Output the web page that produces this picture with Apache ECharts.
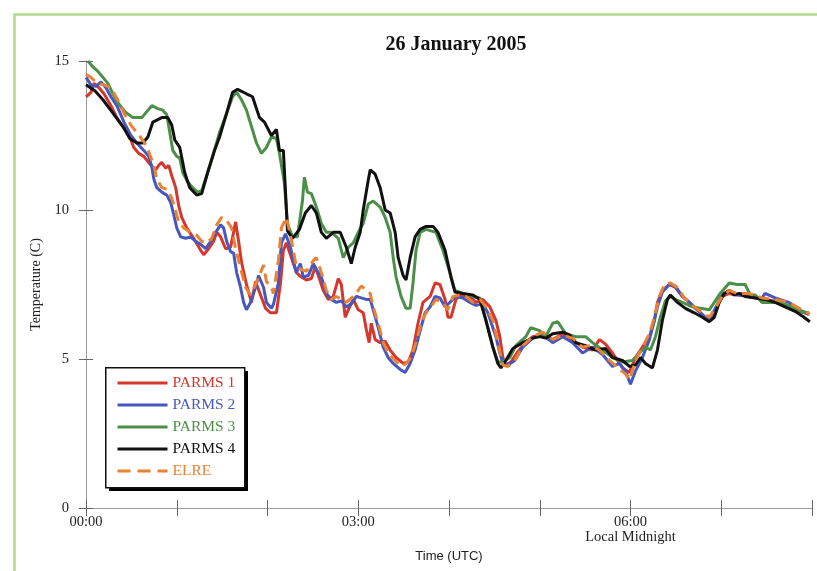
<!DOCTYPE html>
<html>
<head>
<meta charset="utf-8">
<script src="https://cdn.jsdelivr.net/npm/echarts@6/dist/echarts.min.js"></script>
<style>
  html, body { margin: 0; padding: 0; background: #fff; }
  #chart { width: 817px; height: 571px; }
</style>
</head>
<body>
<div id="chart"></div>
<script>
// time in minutes after 00:00 UTC, temperature in C
const parms1 = [[0,13.8],[0.7,13.8],[3.3,13.95],[5.3,14.25],[8.6,14.1],[11.9,13.9],[16.5,13.5],[20.4,13.1],[25.1,12.75],[29.7,12.35],[31.6,12.1],[34.9,11.9],[38.2,11.8],[42.9,11.5],[46.2,11.35],[48.1,11.5],[50.1,11.6],[52.7,11.4],[54.7,11.5],[56.7,11.15],[59.3,10.75],[61.3,10.15],[63.3,9.75],[66.6,9.4],[71.2,9.05],[75.8,8.65],[77.8,8.5],[81.1,8.7],[84.4,8.95],[86.4,9.25],[89,9.1],[92.3,8.7],[95.6,8.75],[98.9,9.6],[100.9,8.95],[102.8,8.25],[106.1,7.5],[109.4,6.9],[112.1,7.6],[115.4,7.15],[118.7,6.7],[122,6.55],[125.9,6.55],[128.6,7.55],[130.5,8.65],[132.5,8.9],[135.8,8.4],[139.1,7.9],[142.4,7.75],[145.7,7.65],[149,7.7],[151.6,8.1],[153.6,7.8],[156.9,7.3],[160.2,7.0],[163.5,7.1],[166.8,7.7],[168.8,7.5],[171.4,6.4],[173.4,6.65],[176.7,7.0],[180,6.65],[183.3,6.55],[185.3,6.0],[187.2,5.55],[188.6,6.2],[191.2,5.65],[194.5,5.55],[197.8,5.6],[201.1,5.3],[205,5.05],[209.7,4.85],[213,4.9],[216.2,5.3],[219.5,6.2],[222.8,6.9],[227.5,7.1],[230.8,7.55],[234,7.5],[237.4,7.0],[239.3,6.4],[241.3,6.4],[244.6,7.0],[247.2,7.15],[253.8,7.1],[257.8,6.9],[262.4,7.0],[267,6.75],[271,6.3],[273.6,5.75],[275.6,5.05],[277.6,4.8],[280.9,4.9],[285.5,5.25],[290.8,5.55],[295.4,5.75],[302,5.8],[308.6,5.65],[315.2,5.85],[321.7,5.65],[328.3,5.4],[334.9,5.3],[339.5,5.65],[343.5,5.5],[348.1,5.2],[354.7,4.7],[359.3,4.55],[363.3,5.05],[367.9,5.4],[372.5,5.75],[375.8,6.3],[377.8,6.9],[381.1,7.3],[385.7,7.5],[389.6,7.4],[394.3,7.1],[398.9,6.9],[404.2,6.65],[409.4,6.4],[412.7,6.3],[416,6.65],[420.6,7.1],[425.3,7.2],[429.2,7.15],[433.8,7.2],[438.4,7.1],[447,7.0],[455.6,6.95],[462.2,6.8],[468.8,6.65],[478,6.5]];

const parms2 = [[0,14.45],[3.3,14.2],[6.6,14.15],[9.9,14.3],[13.2,14.1],[16.5,13.8],[20.4,13.5],[25.1,12.95],[29.7,12.5],[33.6,12.25],[38.2,12.0],[41.5,11.8],[43.5,11.45],[44.8,11.05],[46.8,10.75],[50.1,10.6],[53.4,10.5],[56,10.25],[58,9.85],[60,9.4],[62.6,9.1],[65.9,9.05],[69.2,9.1],[72.5,8.95],[75.8,8.85],[79.1,8.7],[82.4,8.95],[85.7,9.25],[89,9.5],[91,9.4],[93,8.95],[95.6,8.6],[97.6,8.55],[99.6,7.9],[102.2,7.4],[104.2,6.9],[106.1,6.65],[108.8,6.9],[112.1,7.4],[114.1,7.8],[117.4,7.4],[119.3,6.9],[122.6,6.7],[124,6.85],[127.2,7.55],[129.2,8.9],[131.9,9.2],[135.2,8.75],[137.1,8.3],[139.1,7.9],[141.7,8.2],[143.7,7.75],[147,7.8],[150.3,8.2],[152.3,8.0],[155.6,7.75],[158.9,7.2],[162.2,7.0],[165.5,6.9],[168.8,6.95],[172.1,6.75],[175.4,6.85],[178.7,7.1],[182,7.05],[185.3,7.0],[187.9,7.0],[189.9,6.65],[193.2,6.05],[196.5,5.4],[199.8,5.05],[203.1,4.85],[207.7,4.65],[211,4.55],[214.3,4.85],[217.6,5.3],[220.9,5.95],[224.2,6.55],[227.5,6.75],[230.8,7.1],[234,7.05],[237.4,6.75],[240.6,6.9],[244.6,7.1],[249.2,7.05],[253.8,6.9],[257.8,6.8],[262.4,6.85],[265.7,6.55],[269,6.05],[271,5.75],[273.6,5.2],[275.6,4.85],[278.9,4.8],[283.5,4.95],[288.8,5.4],[295.4,5.7],[302,5.8],[308.6,5.55],[315.2,5.75],[321.7,5.55],[328.3,5.2],[334.9,5.4],[341.5,5.15],[348.1,4.75],[352.7,4.85],[356.7,4.6],[360,4.15],[363.3,4.6],[367.9,5.05],[372.5,5.65],[375.8,6.3],[377.8,6.75],[381.1,7.25],[385.7,7.5],[389.6,7.45],[394.3,7.1],[398.9,6.9],[404.2,6.65],[409.4,6.4],[412.7,6.35],[416,6.7],[420.6,7.15],[425.3,7.3],[430.5,7.15],[438.4,7.1],[447,7.05],[449,7.2],[455.6,7.05],[464.8,6.9],[471.5,6.65],[478,6.5]];

const parms3 = [[1.3,15.0],[4.6,14.8],[7.9,14.65],[11.2,14.45],[14.5,14.25],[17.8,13.9],[21.1,13.6],[25.7,13.3],[31,13.1],[36.9,13.1],[40.2,13.3],[43.5,13.5],[47.5,13.4],[50.8,13.35],[53.4,13.2],[55.4,12.6],[57.4,12.0],[60,11.8],[62,11.75],[64,11.25],[67.2,10.95],[70.5,10.75],[73.8,10.6],[76.5,10.65],[80.4,11.25],[83.7,11.8],[88.3,12.6],[93,13.25],[96.9,13.8],[99.6,13.95],[102.8,13.7],[106.1,13.35],[109.4,12.8],[112.7,12.25],[116,11.9],[119.3,12.1],[122.6,12.45],[125.9,12.4],[127.9,11.9],[131.2,10.9],[133.2,9.55],[136.5,9.1],[139.8,9.1],[143.1,10.3],[144.4,11.1],[146.4,10.6],[149,10.55],[152.3,10.1],[155.6,9.55],[158.9,9.25],[162.2,9.25],[166.8,9.05],[170.1,8.4],[173.4,8.75],[176.7,8.9],[180,9.25],[183.3,9.55],[186.6,10.2],[189.9,10.3],[194.5,10.1],[197.8,9.75],[201.1,9.25],[203.1,8.4],[205,7.75],[208.3,7.1],[211.6,6.7],[214.3,6.7],[216.2,7.55],[218.2,8.65],[220.9,9.25],[224.8,9.35],[231.4,9.25],[236,8.65],[240.6,7.9],[243.9,7.3],[249.2,7.2],[255.8,7.1],[260.4,7.05],[264.4,6.3],[269,5.4],[272.3,4.9],[275.6,4.9],[280.2,5.05],[284.2,5.45],[290.8,5.75],[294,6.05],[300,5.95],[303.9,5.75],[308.6,6.2],[311.9,6.25],[317.1,5.85],[323.7,5.75],[330.3,5.75],[334.9,5.55],[341.5,5.3],[348.1,5.05],[354.7,4.9],[361.3,4.95],[365.9,5.2],[369.9,5.4],[373.2,5.3],[376.5,5.75],[379.7,6.4],[383.1,6.95],[386.4,7.1],[389.6,7.0],[394.3,6.9],[400.9,6.75],[406.2,6.7],[412.1,6.65],[415.4,6.9],[419.3,7.2],[425.3,7.55],[430.5,7.5],[435.8,7.5],[439.1,7.15],[442.4,7.15],[447,6.9],[451.6,6.9],[458.2,6.9],[464.8,6.8],[471.5,6.6],[478,6.55]];

const parms4 = [[0,14.2],[5.9,14.0],[11.2,13.7],[17.8,13.25],[24.4,12.8],[29,12.4],[33.6,12.25],[37.6,12.25],[40.9,12.45],[44.2,12.95],[50.1,13.1],[54.1,13.1],[56.7,12.85],[58.7,12.35],[62,12.1],[65.3,11.25],[68.6,10.75],[73.2,10.5],[76.5,10.55],[80.4,11.25],[85,12.0],[88.3,12.45],[93,13.25],[96.9,13.95],[100.2,14.05],[106.1,13.9],[110.1,13.8],[114.7,13.1],[118,12.95],[122.6,12.5],[125.9,12.7],[127.9,12.0],[130.5,12.0],[133.2,9.3],[136.5,9.05],[141.1,9.35],[145,9.9],[149,10.15],[152.3,9.9],[155.6,9.25],[158.9,9.05],[163.5,9.25],[168.1,9.25],[172.1,8.75],[175.4,8.2],[178,8.75],[181.3,9.25],[183.3,10.0],[186.6,11.0],[187.9,11.35],[191.2,11.2],[194.5,10.75],[197.8,10.0],[201.1,9.9],[204.4,9.25],[206.4,8.4],[209.7,7.8],[211.6,7.65],[214.3,8.4],[217.6,9.1],[220.9,9.35],[224.8,9.45],[229.5,9.45],[232.7,9.25],[237.4,8.65],[241.3,7.75],[243.9,7.25],[249.2,7.2],[255.8,7.15],[260.4,7.0],[264.4,6.3],[269,5.4],[272.3,4.85],[274.3,4.7],[277.6,4.95],[282.2,5.35],[288.8,5.55],[295.4,5.7],[300,5.75],[303.9,5.7],[308.6,5.85],[315.2,5.9],[319.8,5.8],[323.7,5.55],[330.3,5.45],[336.9,5.3],[343.5,5.35],[348.1,5.05],[354.7,4.95],[359.3,4.75],[363.3,4.8],[366.6,5.05],[369.9,4.85],[374.5,4.7],[377.8,5.3],[381.1,6.3],[384.4,7.0],[386.4,7.15],[391,6.9],[396.3,6.7],[402.2,6.55],[407.5,6.4],[412.1,6.25],[415.4,6.4],[418.7,6.9],[422,7.2],[425.3,7.3],[428.6,7.15],[431.8,7.2],[435.8,7.1],[442.4,7.05],[449,7.0],[455.6,6.9],[462.2,6.75],[468.8,6.6],[474.7,6.4],[478.6,6.25]];

const elre = [[0,14.55],[3.3,14.45],[7.3,14.25],[11.9,14.2],[16.5,14.1],[20.4,13.75],[25.1,13.25],[29.7,12.85],[33.6,12.6],[38.2,12.3],[41.5,11.95],[44.8,11.5],[46.8,11.05],[50.1,10.75],[53.4,10.7],[56.7,10.4],[59.3,9.95],[61.3,9.6],[64.6,9.4],[69.2,9.25],[73.2,9.15],[76.5,8.95],[79.8,8.9],[83.1,9.05],[86.4,9.5],[89.7,9.75],[93,9.65],[96.3,9.4],[98.9,8.7],[102.2,8.05],[105.5,7.4],[108.8,7.15],[112.1,7.5],[115.4,7.9],[117.4,8.15],[119.3,7.6],[122.6,7.4],[123.9,7.2],[127.2,8.3],[129.2,9.4],[132.5,9.75],[135.8,9.0],[139.1,8.1],[142.4,8.0],[145.7,7.95],[150.3,8.3],[152.3,8.4],[155.6,7.9],[158.9,7.3],[162.2,7.0],[165.5,7.1],[168.8,7.0],[172.1,6.9],[176.7,7.1],[180,7.3],[182,7.45],[184.6,7.35],[187.9,7.2],[189.9,6.75],[193.2,6.2],[196.5,5.55],[199.8,5.2],[204.4,4.95],[208.3,4.75],[211.6,4.85],[214.9,5.05],[218.2,5.55],[221.5,6.2],[224.8,6.55],[228.1,6.75],[231.4,7.0],[236,6.9],[239.3,6.65],[242.6,7.1],[247.2,7.15],[251.2,7.1],[255.8,6.9],[260.4,7.0],[264.4,6.75],[269,6.3],[272.3,5.55],[275.6,4.8],[278.9,4.75],[283.5,4.95],[288.8,5.45],[295.4,5.75],[302,5.9],[308.6,5.65],[315.2,5.8],[321.7,5.7],[328.3,5.4],[333.6,5.45],[339.5,5.3],[346.1,4.95],[352.7,4.65],[356.7,4.5],[359.3,4.3],[363.3,4.95],[367.9,5.4],[372.5,5.85],[375.8,6.4],[379.1,7.1],[382.4,7.5],[386.4,7.55],[391,7.4],[395.6,7.05],[400.9,6.8],[406.2,6.6],[412.1,6.4],[416,6.7],[420.6,7.1],[425.3,7.3],[430.5,7.2],[438.4,7.2],[447,7.05],[455.6,7.0],[464.8,6.9],[471.5,6.7],[478.6,6.5]];

const seriesNames = ['PARMS 1', 'PARMS 2', 'PARMS 3', 'PARMS 4', 'ELRE'];
const seriesData = [parms1, parms2, parms3, parms4, elre];
const colors = ['#d4372c', '#4757c0', '#4b8f48', '#111111', '#ea8236'];

const tickMinutes = [0, 180, 360];
const tickLabels = ['00:00', '03:00', '06:00\nLocal Midnight'];

const serif = '"Liberation Serif", "Times New Roman", serif';
const axisGray = '#9a9a9a';

const myChart = echarts.init(document.getElementById('chart'));

const series = seriesData.map((d, i) => ({
  name: seriesNames[i],
  type: 'line',
  data: d,
  showSymbol: false,
  symbol: 'none',
  xAxisIndex: 0,
  yAxisIndex: 0,
  lineStyle: {
    color: colors[i],
    width: 3,
    type: i === 4 ? [11, 6] : 'solid',
  },
  itemStyle: { color: colors[i] },
}));

const option = {
  animation: false,
  backgroundColor: '#fff',
  title: {
    text: '26 January 2005',
    left: 451,
    textAlign: 'center',
    top: 30,
    textStyle: { fontFamily: serif, fontSize: 20, fontWeight: 'bold', color: '#111' },
  },
  legend: {
    orient: 'vertical',
    left: 105,
    top: 367,
    data: seriesNames.map((n, i) => ({
      name: n,
      textStyle: { color: colors[i] },
      lineStyle: i === 4 ? { type: [13, 7] } : undefined,
    })),
    itemWidth: 50,
    itemHeight: 14,
    itemGap: 6,
    itemTextGap: 6,
    padding: [8, 10, 8, 11],
    itemStyle: { opacity: 0 },
    lineStyle: { width: 3 },
    textStyle: { fontFamily: serif, fontSize: 15.5 },
    z: 5,
  },
  grid: { left: 86, right: 5, top: 61, bottom: 63 },
  xAxis: [
    {
      type: 'value',
      min: 0,
      max: 480,
      interval: 60,
      position: 'bottom',
      name: 'Time (UTC)',
      nameLocation: 'middle',
      nameGap: 42,
      nameTextStyle: { fontFamily: '"Liberation Sans", Arial, sans-serif', fontSize: 13, color: '#222' },
      axisLine: { lineStyle: { color: axisGray, width: 1 } },
      axisTick: { inside: true, length: 8, lineStyle: { color: '#666' } },
      axisLabel: {
        fontFamily: serif,
        fontSize: 14.5,
        color: '#222',
        margin: 7,
        lineHeight: 15,
        formatter: v => {
          const k = tickMinutes.indexOf(v);
          return k >= 0 ? tickLabels[k] : '';
        },
      },
      splitLine: { show: false },
    },
    {
      type: 'value',
      min: 0,
      max: 480,
      interval: 60,
      position: 'top',
      axisLine: { lineStyle: { color: axisGray, width: 1 } },
      axisTick: { inside: true, length: 8, lineStyle: { color: '#666' } },
      axisLabel: { show: false },
      splitLine: { show: false },
    },
  ],
  yAxis: [
    {
      type: 'value',
      min: 0,
      max: 15,
      interval: 5,
      position: 'left',
      name: 'Temperature (C)',
      nameLocation: 'middle',
      nameGap: 42,
      nameRotate: 90,
      nameTextStyle: { fontFamily: serif, fontSize: 14, color: '#222' },
      axisLine: { show: true, lineStyle: { color: axisGray, width: 1 } },
      axisTick: { show: true, inside: true, length: 7, lineStyle: { color: '#666' } },
      axisLabel: { fontFamily: serif, fontSize: 14.5, color: '#222', margin: 17 },
      splitLine: { show: false },
    },
    {
      type: 'value',
      min: 0,
      max: 15,
      interval: 5,
      position: 'right',
      axisLine: { show: true, lineStyle: { color: axisGray, width: 1 } },
      axisTick: { show: true, inside: true, length: 7, lineStyle: { color: '#666' } },
      axisLabel: { show: false },
      splitLine: { show: false },
    },
  ],
  graphic: [
    {
      type: 'rect',
      left: 12,
      top: 12,
      shape: { width: 830, height: 600 },
      style: { fill: 'none', stroke: '#b3d98c', lineWidth: 2.5 },
      silent: true,
      z: -1,
    },
    // legend box with its drop shadow
    {
      type: 'rect',
      left: 109,
      top: 371,
      shape: { width: 139, height: 120 },
      style: { fill: '#000' },
      silent: true,
      z: 3,
    },
    {
      type: 'rect',
      left: 105,
      top: 367,
      shape: { width: 139, height: 120 },
      style: { fill: '#fff', stroke: '#111', lineWidth: 1.5 },
      silent: true,
      z: 4,
    },
  ],
  series,
};

myChart.setOption(option);
</script>
</body>
</html>
